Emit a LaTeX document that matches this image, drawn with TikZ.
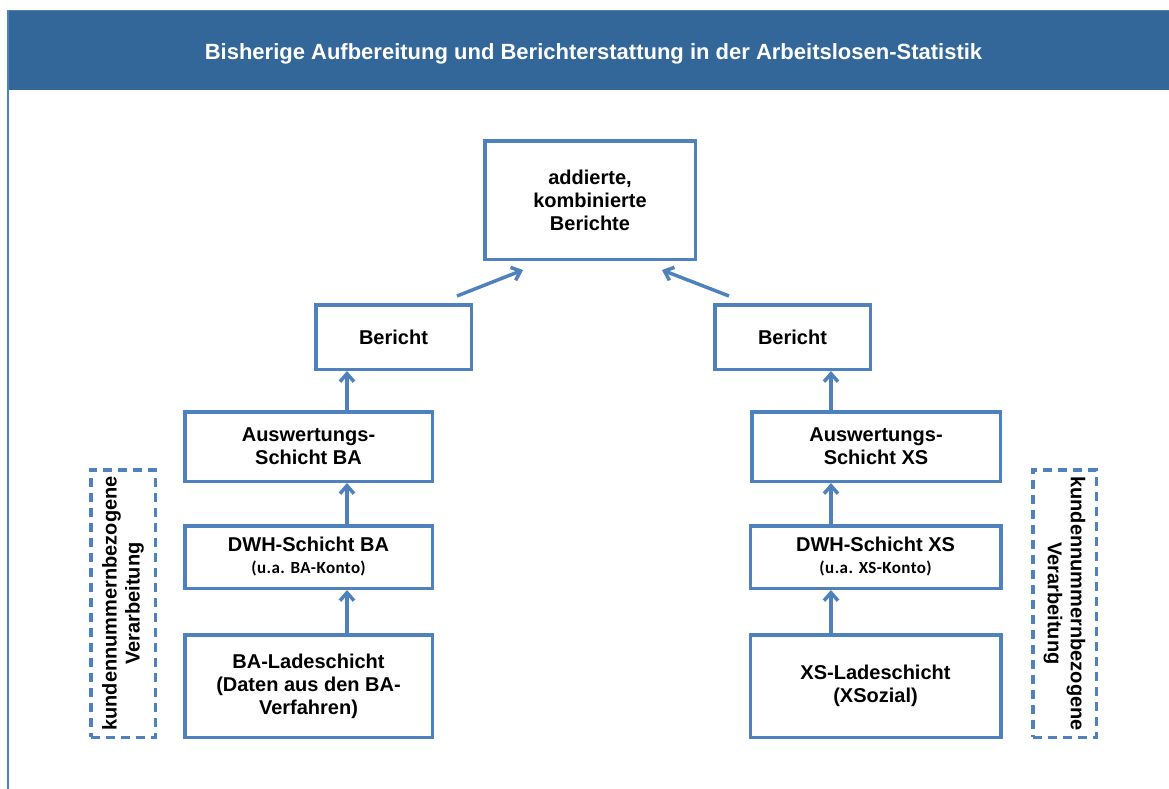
\documentclass[tikz,border=0pt]{standalone}
\usepackage{fontspec}
\setmainfont{Liberation Sans}
\newfontfamily\calfont{Carlito}[LetterSpace=2.5]
\usetikzlibrary{arrows.meta,calc}
\definecolor{boxblue}{HTML}{4F81BD}
\definecolor{headblue}{HTML}{336699}
\tikzset{
  x=1pt, y=-1pt,
  box/.style={draw=boxblue, line width=3.5pt, fill=white, align=center,
    font=\fontsize{20}{23}\selectfont\bfseries, inner sep=0pt},
  dashbox/.style={draw=boxblue, line width=3.5pt, dash pattern=on 9pt off 6pt,
    inner sep=0pt},
  vtext/.style={align=center, font=\fontsize{20}{23}\selectfont\bfseries, inner sep=0pt},
  arr/.style={draw=boxblue, line width=3.5pt,
    -{Straight Barb[length=8pt,width=14pt,line width=3.5pt]}},
}
\newcommand{\smalltxt}[1]{{\calfont\bfseries\fontsize{17}{18}\selectfont #1}}
\begin{document}
\begin{tikzpicture}
\useasboundingbox (0,0) rectangle (1169,789);
% frame and header
\fill[headblue] (8,10) rectangle (1169,90);
\draw[boxblue, line width=1.5pt] (8,10.75) -- (1169,10.75);
\draw[boxblue, line width=2.5pt] (8,10) -- (8,789);
\node[anchor=base, text=white, font=\fontsize{22}{26}\selectfont\bfseries, inner sep=0pt] (title) at (593.5,60)
  {Bisherige Aufbereitung und Berichterstattung in der Arbeitslosen-Statistik};

% boxes
\node[box, minimum width=210.5, minimum height=118.5] (top) at (590,200)
  {addierte,\\kombinierte\\Berichte};
\node[box, minimum width=155.5, minimum height=64.5] (berL) at (393.5,337) {Bericht};
\node[box, minimum width=155.5, minimum height=64.5] (berR) at (792.5,337) {Bericht};
\node[box, minimum width=247.5, minimum height=69.5] (ausBA) at (308.5,446.5) {Auswertungs-\\Schicht BA};
\node[box, minimum width=248.5, minimum height=69.5] (ausXS) at (876,446.5) {Auswertungs-\\Schicht XS};
\node[box, minimum width=247.5, minimum height=62.5] (dwhBA) at (308.5,557)
  {DWH-Schicht BA\\[-1pt]\smalltxt{(u.a. BA-Konto)}};
\node[box, minimum width=250.5, minimum height=62.5] (dwhXS) at (875.5,557)
  {DWH-Schicht XS\\[-1pt]\smalltxt{(u.a. XS-Konto)}};
\node[box, minimum width=247.5, minimum height=102.5] (ladeBA) at (308.5,686)
  {BA-Ladeschicht\\(Daten aus den BA-\\Verfahren)};
\node[box, minimum width=250.5, minimum height=102.5] (ladeXS) at (875.5,686)
  {XS-Ladeschicht\\(XSozial)};

% dashed boxes
\node[dashbox, minimum width=64.5, minimum height=267.5] (dashL) at (123,603.5) {};
\node[dashbox, minimum width=63.5, minimum height=267.5] (dashR) at (1064.5,603.5) {};
\node[vtext, rotate=90] (vL) at (dashL.center) {kundennummernbezogene\\Verarbeitung};
\node[vtext, rotate=-90] (vR) at (dashR.center) {kundennummernbezogene\\Verarbeitung};

% arrow columns
\coordinate (colL) at (347,0);
\coordinate (colR) at (831,0);
\draw[arr] (ladeBA.north -| colL) -- (dwhBA.south -| colL);
\draw[arr] (dwhBA.north -| colL) -- (ausBA.south -| colL);
\draw[arr] (ausBA.north -| colL) -- (berL.south -| colL);
\draw[arr] (ladeXS.north -| colR) -- (dwhXS.south -| colR);
\draw[arr] (dwhXS.north -| colR) -- (ausXS.south -| colR);
\draw[arr] (ausXS.north -| colR) -- (berR.south -| colR);

% diagonal arrows
\draw[arr] ($(berL.north east)+(-16,-7)$) -- ($(top.south west)+(40,9)$);
\draw[arr] ($(berR.north west)+(16,-7)$) -- ($(top.south east)+(-35,9)$);
\end{tikzpicture}
\end{document}
